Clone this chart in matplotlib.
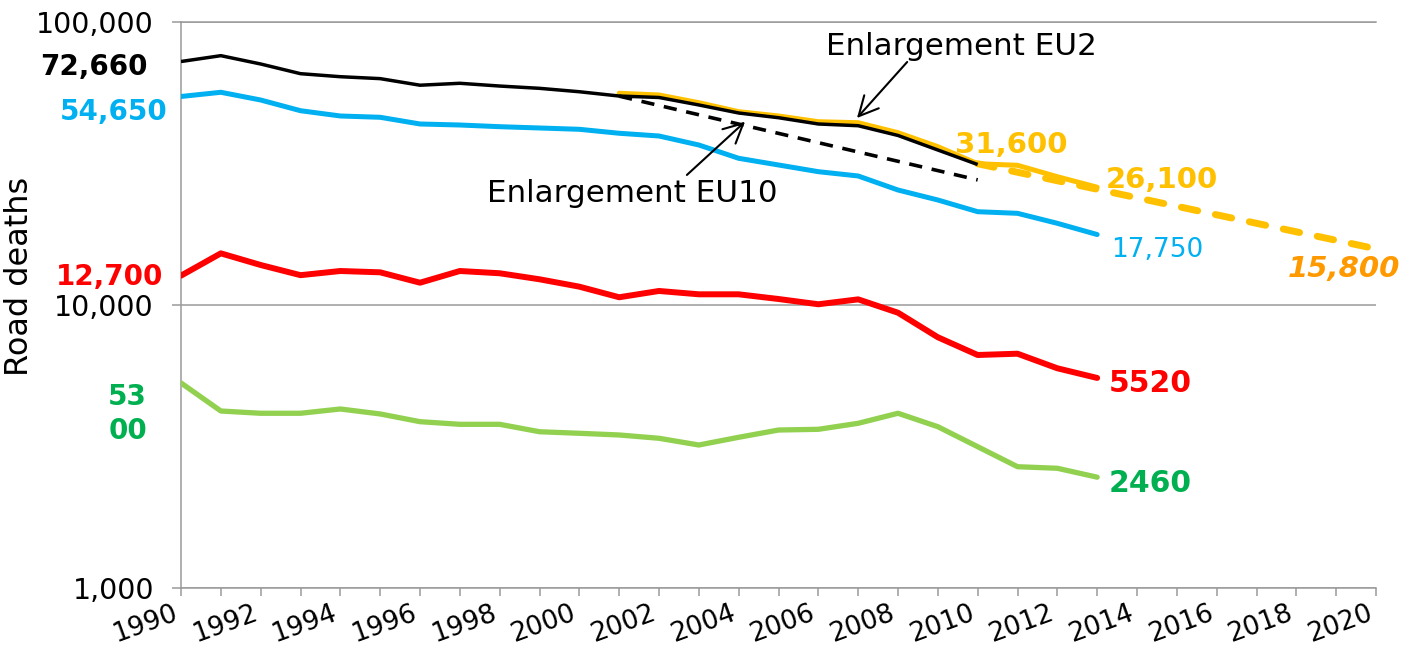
import matplotlib
matplotlib.use('Agg')
import matplotlib.pyplot as plt
from matplotlib.ticker import FixedLocator, FuncFormatter, NullLocator

plt.rcParams['font.family'] = ['DejaVu Sans']
plt.rcParams['lines.scale_dashes'] = False

# ---------------- data ----------------
years = list(range(1990, 2014))
years_total = list(range(1990, 2011))
years_eu28 = list(range(2001, 2014))

eu_total = [72660, 76200, 71200, 65800, 64200, 63200, 59900, 60850, 59500, 58400,
            56800, 54850, 54200, 51000, 47770, 45970, 43680, 43070, 39780, 35340, 31400]
eu_blue = [54650, 56550, 53100, 48670, 46620, 46130, 43680, 43320, 42730, 42280,
           41830, 40500, 39610, 36810, 33030, 31280, 29620, 28600, 25510, 23520,
           21380, 21100, 19450, 17750]
eu_red = [12700, 15230, 13850, 12750, 13190, 13050, 11990, 13190, 12950, 12330,
          11610, 10650, 11210, 10910, 10910, 10500, 10060, 10470, 9390, 7690,
          6655, 6725, 5972, 5520]
eu_green = [5300, 4217, 4140, 4140, 4287, 4117, 3866, 3784, 3784, 3562,
            3517, 3469, 3377, 3197, 3404, 3612, 3633, 3815, 4140, 3711,
            3153, 2679, 2645, 2460]
eu28 = [56100, 55320, 51950, 48290, 46630, 44500, 44140, 40690, 36310, 31600,
        31200, 28430, 26100]
eu10_years = [2001, 2010]
eu10_trend = [54800, 27700]
target_years = [2010, 2020]
target = [31600, 15800]

ytick_vals = [1000, 10000, 100000]
xtick_years = list(range(1990, 2021))

# ---------------- colours ----------------
C_BLACK = '#000000'
C_BLUE = '#00B0F0'
C_RED = '#FF0000'
C_GREEN = '#92D050'
C_GREEN_TXT = '#00B050'
C_YELLOW = '#FFC000'
C_ORANGE = '#FF9900'
C_GRID = '#9a9a9a'

fig = plt.figure(figsize=(14.04, 6.5), dpi=100)
ax = fig.add_axes([0.12892, 0.09585, 0.85114, 0.86985])
ax.set_yscale('log')
ax.set_xlim(1990, 2020)
ax.set_ylim(1000, 100000)

# lines
ax.plot(years, eu_blue, color=C_BLUE, lw=3.6, solid_capstyle='round', zorder=3)
ax.plot(years, eu_red, color=C_RED, lw=4.3, solid_capstyle='round', zorder=3)
ax.plot(years, eu_green, color=C_GREEN, lw=3.8, solid_capstyle='round', zorder=3)
ax.plot(years_eu28, eu28, color=C_YELLOW, lw=3.6, solid_capstyle='round', zorder=3)
ax.plot(target_years, target, color=C_YELLOW, lw=5.0, dashes=(12, 13),
        dash_capstyle='round', zorder=3)
ax.plot(eu10_years, eu10_trend, color=C_BLACK, lw=2.6, dashes=(9.5, 7),
        dash_capstyle='butt', zorder=4)
ax.plot(years_total, eu_total, color=C_BLACK, lw=2.5, solid_capstyle='butt', zorder=5)

# axes styling
ax.spines['right'].set_visible(False)
for s in ['left', 'bottom', 'top']:
    ax.spines[s].set_color(C_GRID)
    ax.spines[s].set_linewidth(1.1)
ax.yaxis.grid(True, which='major', color=C_GRID, lw=1.1)
ax.set_axisbelow(True)

ax.yaxis.set_major_locator(FixedLocator(ytick_vals))
ax.yaxis.set_minor_locator(NullLocator())
ax.yaxis.set_major_formatter(FuncFormatter(lambda v, p: f'{int(round(v)):,}'))
ax.tick_params(axis='y', length=6.5, width=1.1, color=C_GRID, labelsize=20.5, pad=13)

ax.set_xticks(xtick_years)
ax.set_xticklabels([str(y) if y % 2 == 0 else '' for y in xtick_years])
ax.tick_params(axis='x', length=5.8, width=1.1, color=C_GRID, labelsize=19,
               pad=3, labelrotation=20)
for lab in ax.get_xticklabels():
    lab.set_horizontalalignment('right')

ax.set_ylabel('Road deaths', fontsize=23)
ax.yaxis.set_label_coords(-0.122, 0.551)

# value labels
def lab(txt, xy, dx, dy, color, size=20, weight='bold', ha='left', style='normal'):
    ax.annotate(txt, xy=xy, xytext=(dx, dy), textcoords='offset points',
                ha=ha, va='baseline', color=color, fontsize=size,
                fontweight=weight, fontstyle=style, annotation_clip=False)

lab('72,660', (years_total[0], eu_total[0]), -24, -9.7, C_BLACK, 20, ha='right')
lab('54,650', (years[0], eu_blue[0]), -10, -16.9, C_BLUE, 20, ha='right')
lab('12,700', (years[0], eu_red[0]), -13, -6.7, C_RED, 20, ha='right')
lab('53', (years[0], eu_green[0]), -38.5, -15.8, C_GREEN_TXT, 20, ha='center')
lab('00', (years[0], eu_green[0]), -38.5, -40.3, C_GREEN_TXT, 20, ha='center')
lab('17,750', (years[-1], eu_blue[-1]), 10, -15.9, C_BLUE, 19, weight='normal')
lab('5520', (years[-1], eu_red[-1]), 8.6, -10, C_RED, 21.5)
lab('2460', (years[-1], eu_green[-1]), 8.6, -10.7, C_GREEN_TXT, 21.5)
lab('26,100', (years_eu28[-1], eu28[-1]), 6, -0.6, C_YELLOW, 21)
lab('31,600', (target_years[0], target[0]), -16.3, 7.7, C_YELLOW, 21)
lab('15,800', (target_years[-1], target[-1]), 17.3, -20.3, C_ORANGE, 21,
    ha='right', style='italic')

# enlargement annotations
arrow = dict(arrowstyle='->,head_length=0.7,head_width=0.35', color='black',
             lw=1.5, shrinkA=0, shrinkB=0, mutation_scale=20)
ax.annotate('', xy=(2006.97, 45860), xytext=(2008.23, 72370), arrowprops=arrow)
ax.text(2009.58, 76620, 'Enlargement EU2', ha='center', va='baseline', fontsize=22.3)
ax.annotate('', xy=(2004.16, 44500), xytext=(2002.7, 28840), arrowprops=arrow)
ax.text(2001.32, 23140, 'Enlargement EU10', ha='center', va='baseline', fontsize=22.3)

fig.savefig('out.png', dpi=100)
